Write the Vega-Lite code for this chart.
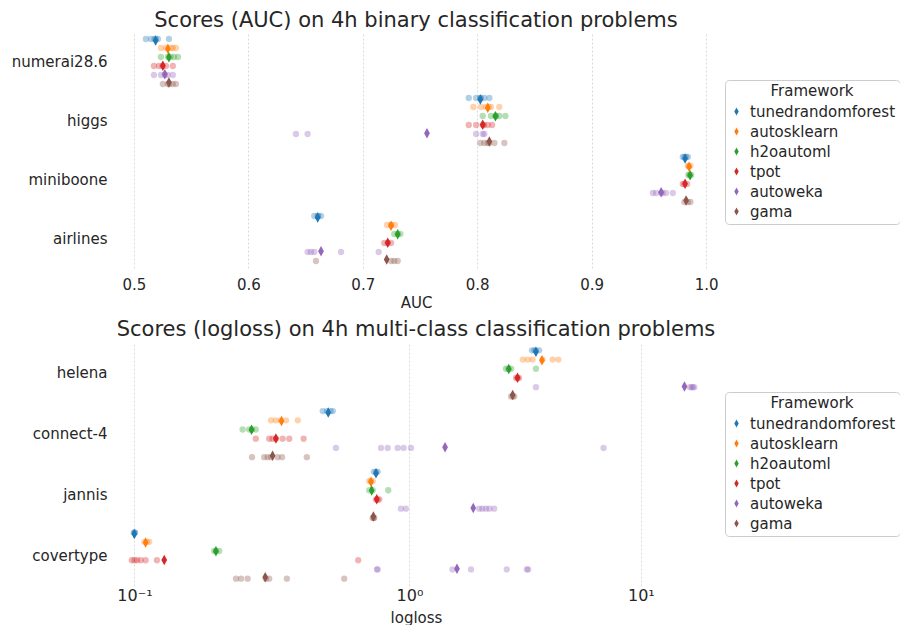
{
  "$schema": "https://vega.github.io/schema/vega-lite/v6.json",
  "background": "white",
  "padding": {"left": 11, "top": 10, "right": 0, "bottom": 0},
  "config": {
    "font": "DejaVu Sans",
    "view": {"stroke": null},
    "axis": {"domain": false, "ticks": false, "labelColor": "#262626", "titleColor": "#262626", "labelFontSize": 15, "titleFontSize": 15, "titleFontWeight": "normal", "grid": false, "labelFont": "DejaVu Sans", "titleFont": "DejaVu Sans"},
    "title": {"fontSize": 21, "fontWeight": "normal", "color": "#262626", "font": "DejaVu Sans"},
    "legend": {"titleFontSize": 15, "titleFontWeight": "normal", "labelFontSize": 15, "labelColor": "#262626", "titleColor": "#262626", "titleAnchor": "middle", "strokeColor": "#cccccc", "fillColor": "white", "cornerRadius": 4, "padding": 4, "rowPadding": 4, "titlePadding": 5, "symbolOpacity": 1, "symbolType": "M0,-1L0.55,0L0,1L-0.55,0Z", "symbolSize": 64, "symbolStrokeWidth": 0, "labelOffset": 6, "labelFont": "DejaVu Sans", "titleFont": "DejaVu Sans"}
  },
  "datasets": {
    "auc": [
      {"task": "numerai28.6", "framework": "tunedrandomforest", "score": 0.5105},
      {"task": "numerai28.6", "framework": "tunedrandomforest", "score": 0.515},
      {"task": "numerai28.6", "framework": "tunedrandomforest", "score": 0.518},
      {"task": "numerai28.6", "framework": "tunedrandomforest", "score": 0.5192},
      {"task": "numerai28.6", "framework": "tunedrandomforest", "score": 0.521},
      {"task": "numerai28.6", "framework": "tunedrandomforest", "score": 0.5306},
      {"task": "numerai28.6", "framework": "autosklearn", "score": 0.5236},
      {"task": "numerai28.6", "framework": "autosklearn", "score": 0.528},
      {"task": "numerai28.6", "framework": "autosklearn", "score": 0.5323},
      {"task": "numerai28.6", "framework": "autosklearn", "score": 0.534},
      {"task": "numerai28.6", "framework": "autosklearn", "score": 0.5367},
      {"task": "numerai28.6", "framework": "h2oautoml", "score": 0.5236},
      {"task": "numerai28.6", "framework": "h2oautoml", "score": 0.5297},
      {"task": "numerai28.6", "framework": "h2oautoml", "score": 0.532},
      {"task": "numerai28.6", "framework": "h2oautoml", "score": 0.535},
      {"task": "numerai28.6", "framework": "h2oautoml", "score": 0.5385},
      {"task": "numerai28.6", "framework": "tpot", "score": 0.5175},
      {"task": "numerai28.6", "framework": "tpot", "score": 0.5219},
      {"task": "numerai28.6", "framework": "tpot", "score": 0.525},
      {"task": "numerai28.6", "framework": "tpot", "score": 0.528},
      {"task": "numerai28.6", "framework": "tpot", "score": 0.534},
      {"task": "numerai28.6", "framework": "autoweka", "score": 0.5175},
      {"task": "numerai28.6", "framework": "autoweka", "score": 0.5236},
      {"task": "numerai28.6", "framework": "autoweka", "score": 0.527},
      {"task": "numerai28.6", "framework": "autoweka", "score": 0.5297},
      {"task": "numerai28.6", "framework": "autoweka", "score": 0.534},
      {"task": "numerai28.6", "framework": "gama", "score": 0.5253},
      {"task": "numerai28.6", "framework": "gama", "score": 0.5297},
      {"task": "numerai28.6", "framework": "gama", "score": 0.531},
      {"task": "numerai28.6", "framework": "gama", "score": 0.534},
      {"task": "numerai28.6", "framework": "gama", "score": 0.5367},
      {"task": "higgs", "framework": "tunedrandomforest", "score": 0.7926},
      {"task": "higgs", "framework": "tunedrandomforest", "score": 0.799},
      {"task": "higgs", "framework": "tunedrandomforest", "score": 0.8027},
      {"task": "higgs", "framework": "tunedrandomforest", "score": 0.803},
      {"task": "higgs", "framework": "tunedrandomforest", "score": 0.8062},
      {"task": "higgs", "framework": "tunedrandomforest", "score": 0.8106},
      {"task": "higgs", "framework": "autosklearn", "score": 0.7966},
      {"task": "higgs", "framework": "autosklearn", "score": 0.8033},
      {"task": "higgs", "framework": "autosklearn", "score": 0.8077},
      {"task": "higgs", "framework": "autosklearn", "score": 0.81},
      {"task": "higgs", "framework": "autosklearn", "score": 0.812},
      {"task": "higgs", "framework": "autosklearn", "score": 0.8193},
      {"task": "higgs", "framework": "h2oautoml", "score": 0.8048},
      {"task": "higgs", "framework": "h2oautoml", "score": 0.812},
      {"task": "higgs", "framework": "h2oautoml", "score": 0.816},
      {"task": "higgs", "framework": "h2oautoml", "score": 0.8164},
      {"task": "higgs", "framework": "h2oautoml", "score": 0.8193},
      {"task": "higgs", "framework": "h2oautoml", "score": 0.8246},
      {"task": "higgs", "framework": "tpot", "score": 0.7926},
      {"task": "higgs", "framework": "tpot", "score": 0.799},
      {"task": "higgs", "framework": "tpot", "score": 0.8048},
      {"task": "higgs", "framework": "tpot", "score": 0.806},
      {"task": "higgs", "framework": "tpot", "score": 0.8092},
      {"task": "higgs", "framework": "tpot", "score": 0.813},
      {"task": "higgs", "framework": "autoweka", "score": 0.6416},
      {"task": "higgs", "framework": "autoweka", "score": 0.6518},
      {"task": "higgs", "framework": "autoweka", "score": 0.799},
      {"task": "higgs", "framework": "autoweka", "score": 0.8048},
      {"task": "higgs", "framework": "autoweka", "score": 0.8062},
      {"task": "higgs", "framework": "gama", "score": 0.8027},
      {"task": "higgs", "framework": "gama", "score": 0.8062},
      {"task": "higgs", "framework": "gama", "score": 0.809},
      {"task": "higgs", "framework": "gama", "score": 0.8106},
      {"task": "higgs", "framework": "gama", "score": 0.815},
      {"task": "higgs", "framework": "gama", "score": 0.8237},
      {"task": "miniboone", "framework": "tunedrandomforest", "score": 0.9796},
      {"task": "miniboone", "framework": "tunedrandomforest", "score": 0.981},
      {"task": "miniboone", "framework": "tunedrandomforest", "score": 0.9825},
      {"task": "miniboone", "framework": "tunedrandomforest", "score": 0.984},
      {"task": "miniboone", "framework": "autosklearn", "score": 0.984},
      {"task": "miniboone", "framework": "autosklearn", "score": 0.985},
      {"task": "miniboone", "framework": "autosklearn", "score": 0.9863},
      {"task": "miniboone", "framework": "h2oautoml", "score": 0.9845},
      {"task": "miniboone", "framework": "h2oautoml", "score": 0.9855},
      {"task": "miniboone", "framework": "h2oautoml", "score": 0.9869},
      {"task": "miniboone", "framework": "tpot", "score": 0.9796},
      {"task": "miniboone", "framework": "tpot", "score": 0.981},
      {"task": "miniboone", "framework": "tpot", "score": 0.9834},
      {"task": "miniboone", "framework": "autoweka", "score": 0.9534},
      {"task": "miniboone", "framework": "autoweka", "score": 0.9563},
      {"task": "miniboone", "framework": "autoweka", "score": 0.9607},
      {"task": "miniboone", "framework": "autoweka", "score": 0.962},
      {"task": "miniboone", "framework": "autoweka", "score": 0.965},
      {"task": "miniboone", "framework": "autoweka", "score": 0.9709},
      {"task": "miniboone", "framework": "gama", "score": 0.981},
      {"task": "miniboone", "framework": "gama", "score": 0.984},
      {"task": "miniboone", "framework": "gama", "score": 0.9863},
      {"task": "airlines", "framework": "tunedrandomforest", "score": 0.6576},
      {"task": "airlines", "framework": "tunedrandomforest", "score": 0.6606},
      {"task": "airlines", "framework": "tunedrandomforest", "score": 0.661},
      {"task": "airlines", "framework": "tunedrandomforest", "score": 0.6635},
      {"task": "airlines", "framework": "autosklearn", "score": 0.7212},
      {"task": "airlines", "framework": "autosklearn", "score": 0.7247},
      {"task": "airlines", "framework": "autosklearn", "score": 0.725},
      {"task": "airlines", "framework": "autosklearn", "score": 0.7282},
      {"task": "airlines", "framework": "h2oautoml", "score": 0.7275},
      {"task": "airlines", "framework": "h2oautoml", "score": 0.7305},
      {"task": "airlines", "framework": "h2oautoml", "score": 0.7328},
      {"task": "airlines", "framework": "tpot", "score": 0.7188},
      {"task": "airlines", "framework": "tpot", "score": 0.7218},
      {"task": "airlines", "framework": "tpot", "score": 0.7247},
      {"task": "airlines", "framework": "autoweka", "score": 0.6518},
      {"task": "airlines", "framework": "autoweka", "score": 0.6547},
      {"task": "airlines", "framework": "autoweka", "score": 0.6576},
      {"task": "airlines", "framework": "autoweka", "score": 0.681},
      {"task": "airlines", "framework": "autoweka", "score": 0.7139},
      {"task": "airlines", "framework": "gama", "score": 0.6591},
      {"task": "airlines", "framework": "gama", "score": 0.7247},
      {"task": "airlines", "framework": "gama", "score": 0.7275},
      {"task": "airlines", "framework": "gama", "score": 0.7305}
    ],
    "auc_mean": [
      {"task": "numerai28.6", "framework": "tunedrandomforest", "score": 0.519},
      {"task": "numerai28.6", "framework": "autosklearn", "score": 0.5297},
      {"task": "numerai28.6", "framework": "h2oautoml", "score": 0.5306},
      {"task": "numerai28.6", "framework": "tpot", "score": 0.5253},
      {"task": "numerai28.6", "framework": "autoweka", "score": 0.527},
      {"task": "numerai28.6", "framework": "gama", "score": 0.5306},
      {"task": "higgs", "framework": "tunedrandomforest", "score": 0.8027},
      {"task": "higgs", "framework": "autosklearn", "score": 0.8092},
      {"task": "higgs", "framework": "h2oautoml", "score": 0.8159},
      {"task": "higgs", "framework": "tpot", "score": 0.8048},
      {"task": "higgs", "framework": "autoweka", "score": 0.7561},
      {"task": "higgs", "framework": "gama", "score": 0.8106},
      {"task": "miniboone", "framework": "tunedrandomforest", "score": 0.9816},
      {"task": "miniboone", "framework": "autosklearn", "score": 0.9851},
      {"task": "miniboone", "framework": "h2oautoml", "score": 0.986},
      {"task": "miniboone", "framework": "tpot", "score": 0.9816},
      {"task": "miniboone", "framework": "autoweka", "score": 0.9607},
      {"task": "miniboone", "framework": "gama", "score": 0.9825},
      {"task": "airlines", "framework": "tunedrandomforest", "score": 0.6606},
      {"task": "airlines", "framework": "autosklearn", "score": 0.7247},
      {"task": "airlines", "framework": "h2oautoml", "score": 0.7305},
      {"task": "airlines", "framework": "tpot", "score": 0.7218},
      {"task": "airlines", "framework": "autoweka", "score": 0.6635},
      {"task": "airlines", "framework": "gama", "score": 0.7209}
    ],
    "logloss": [
      {"task": "helena", "framework": "tunedrandomforest", "score": 3.22},
      {"task": "helena", "framework": "tunedrandomforest", "score": 3.3},
      {"task": "helena", "framework": "tunedrandomforest", "score": 3.35},
      {"task": "helena", "framework": "tunedrandomforest", "score": 3.46},
      {"task": "helena", "framework": "autosklearn", "score": 2.94},
      {"task": "helena", "framework": "autosklearn", "score": 3.09},
      {"task": "helena", "framework": "autosklearn", "score": 3.24},
      {"task": "helena", "framework": "autosklearn", "score": 3.58},
      {"task": "helena", "framework": "autosklearn", "score": 3.96},
      {"task": "helena", "framework": "autosklearn", "score": 4.2},
      {"task": "helena", "framework": "h2oautoml", "score": 2.49},
      {"task": "helena", "framework": "h2oautoml", "score": 2.55},
      {"task": "helena", "framework": "h2oautoml", "score": 2.62},
      {"task": "helena", "framework": "h2oautoml", "score": 3.35},
      {"task": "helena", "framework": "tpot", "score": 2.75},
      {"task": "helena", "framework": "tpot", "score": 2.79},
      {"task": "helena", "framework": "tpot", "score": 2.83},
      {"task": "helena", "framework": "autoweka", "score": 3.35},
      {"task": "helena", "framework": "autoweka", "score": 17.2},
      {"task": "helena", "framework": "autoweka", "score": 17.6},
      {"task": "helena", "framework": "autoweka", "score": 17.8},
      {"task": "helena", "framework": "autoweka", "score": 18.1},
      {"task": "helena", "framework": "gama", "score": 2.62},
      {"task": "helena", "framework": "gama", "score": 2.66},
      {"task": "helena", "framework": "gama", "score": 2.7},
      {"task": "connect-4", "framework": "tunedrandomforest", "score": 0.463},
      {"task": "connect-4", "framework": "tunedrandomforest", "score": 0.48},
      {"task": "connect-4", "framework": "tunedrandomforest", "score": 0.495},
      {"task": "connect-4", "framework": "tunedrandomforest", "score": 0.505},
      {"task": "connect-4", "framework": "autosklearn", "score": 0.2985},
      {"task": "connect-4", "framework": "autosklearn", "score": 0.311},
      {"task": "connect-4", "framework": "autosklearn", "score": 0.324},
      {"task": "connect-4", "framework": "autosklearn", "score": 0.3386},
      {"task": "connect-4", "framework": "autosklearn", "score": 0.374},
      {"task": "connect-4", "framework": "h2oautoml", "score": 0.236},
      {"task": "connect-4", "framework": "h2oautoml", "score": 0.249},
      {"task": "connect-4", "framework": "h2oautoml", "score": 0.255},
      {"task": "connect-4", "framework": "h2oautoml", "score": 0.263},
      {"task": "connect-4", "framework": "tpot", "score": 0.263},
      {"task": "connect-4", "framework": "tpot", "score": 0.294},
      {"task": "connect-4", "framework": "tpot", "score": 0.3025},
      {"task": "connect-4", "framework": "tpot", "score": 0.311},
      {"task": "connect-4", "framework": "tpot", "score": 0.329},
      {"task": "connect-4", "framework": "tpot", "score": 0.348},
      {"task": "connect-4", "framework": "tpot", "score": 0.393},
      {"task": "connect-4", "framework": "autoweka", "score": 0.519},
      {"task": "connect-4", "framework": "autoweka", "score": 0.773},
      {"task": "connect-4", "framework": "autoweka", "score": 0.821},
      {"task": "connect-4", "framework": "autoweka", "score": 0.898},
      {"task": "connect-4", "framework": "autoweka", "score": 0.948},
      {"task": "connect-4", "framework": "autoweka", "score": 1.014},
      {"task": "connect-4", "framework": "autoweka", "score": 6.71},
      {"task": "connect-4", "framework": "gama", "score": 0.255},
      {"task": "connect-4", "framework": "gama", "score": 0.282},
      {"task": "connect-4", "framework": "gama", "score": 0.2906},
      {"task": "connect-4", "framework": "gama", "score": 0.2985},
      {"task": "connect-4", "framework": "gama", "score": 0.3156},
      {"task": "connect-4", "framework": "gama", "score": 0.3275},
      {"task": "connect-4", "framework": "gama", "score": 0.404},
      {"task": "jannis", "framework": "tunedrandomforest", "score": 0.725},
      {"task": "jannis", "framework": "tunedrandomforest", "score": 0.739},
      {"task": "jannis", "framework": "tunedrandomforest", "score": 0.75},
      {"task": "jannis", "framework": "autosklearn", "score": 0.695},
      {"task": "jannis", "framework": "autosklearn", "score": 0.7066},
      {"task": "jannis", "framework": "autosklearn", "score": 0.718},
      {"task": "jannis", "framework": "h2oautoml", "score": 0.696},
      {"task": "jannis", "framework": "h2oautoml", "score": 0.7175},
      {"task": "jannis", "framework": "h2oautoml", "score": 0.825},
      {"task": "jannis", "framework": "tpot", "score": 0.739},
      {"task": "jannis", "framework": "tpot", "score": 0.75},
      {"task": "jannis", "framework": "tpot", "score": 0.761},
      {"task": "jannis", "framework": "autoweka", "score": 0.925},
      {"task": "jannis", "framework": "autoweka", "score": 0.968},
      {"task": "jannis", "framework": "autoweka", "score": 1.92},
      {"task": "jannis", "framework": "autoweka", "score": 1.98},
      {"task": "jannis", "framework": "autoweka", "score": 2.05},
      {"task": "jannis", "framework": "autoweka", "score": 2.12},
      {"task": "jannis", "framework": "autoweka", "score": 2.22},
      {"task": "jannis", "framework": "gama", "score": 0.7175},
      {"task": "jannis", "framework": "gama", "score": 0.723},
      {"task": "jannis", "framework": "gama", "score": 0.728},
      {"task": "covertype", "framework": "tunedrandomforest", "score": 0.0995},
      {"task": "covertype", "framework": "tunedrandomforest", "score": 0.1},
      {"task": "covertype", "framework": "tunedrandomforest", "score": 0.1005},
      {"task": "covertype", "framework": "autosklearn", "score": 0.1079},
      {"task": "covertype", "framework": "autosklearn", "score": 0.11},
      {"task": "covertype", "framework": "autosklearn", "score": 0.1121},
      {"task": "covertype", "framework": "h2oautoml", "score": 0.1874},
      {"task": "covertype", "framework": "h2oautoml", "score": 0.19},
      {"task": "covertype", "framework": "h2oautoml", "score": 0.195},
      {"task": "covertype", "framework": "tpot", "score": 0.098},
      {"task": "covertype", "framework": "tpot", "score": 0.1},
      {"task": "covertype", "framework": "tpot", "score": 0.102},
      {"task": "covertype", "framework": "tpot", "score": 0.105},
      {"task": "covertype", "framework": "tpot", "score": 0.109},
      {"task": "covertype", "framework": "tpot", "score": 0.119},
      {"task": "covertype", "framework": "tpot", "score": 0.631},
      {"task": "covertype", "framework": "autoweka", "score": 0.7455},
      {"task": "covertype", "framework": "autoweka", "score": 0.75},
      {"task": "covertype", "framework": "autoweka", "score": 1.49},
      {"task": "covertype", "framework": "autoweka", "score": 1.777},
      {"task": "covertype", "framework": "autoweka", "score": 2.51},
      {"task": "covertype", "framework": "autoweka", "score": 3.06},
      {"task": "covertype", "framework": "autoweka", "score": 3.1},
      {"task": "covertype", "framework": "gama", "score": 0.2236},
      {"task": "covertype", "framework": "gama", "score": 0.233},
      {"task": "covertype", "framework": "gama", "score": 0.246},
      {"task": "covertype", "framework": "gama", "score": 0.286},
      {"task": "covertype", "framework": "gama", "score": 0.294},
      {"task": "covertype", "framework": "gama", "score": 0.341},
      {"task": "covertype", "framework": "gama", "score": 0.558}
    ],
    "logloss_mean": [
      {"task": "helena", "framework": "tunedrandomforest", "score": 3.35},
      {"task": "helena", "framework": "autosklearn", "score": 3.56},
      {"task": "helena", "framework": "h2oautoml", "score": 2.56},
      {"task": "helena", "framework": "tpot", "score": 2.79},
      {"task": "helena", "framework": "autoweka", "score": 16.2},
      {"task": "helena", "framework": "gama", "score": 2.66},
      {"task": "connect-4", "framework": "tunedrandomforest", "score": 0.4855},
      {"task": "connect-4", "framework": "autosklearn", "score": 0.326},
      {"task": "connect-4", "framework": "h2oautoml", "score": 0.254},
      {"task": "connect-4", "framework": "tpot", "score": 0.311},
      {"task": "connect-4", "framework": "autoweka", "score": 1.39},
      {"task": "connect-4", "framework": "gama", "score": 0.3025},
      {"task": "jannis", "framework": "tunedrandomforest", "score": 0.739},
      {"task": "jannis", "framework": "autosklearn", "score": 0.7066},
      {"task": "jannis", "framework": "h2oautoml", "score": 0.711},
      {"task": "jannis", "framework": "tpot", "score": 0.744},
      {"task": "jannis", "framework": "autoweka", "score": 1.815},
      {"task": "jannis", "framework": "gama", "score": 0.722},
      {"task": "covertype", "framework": "tunedrandomforest", "score": 0.0999},
      {"task": "covertype", "framework": "autosklearn", "score": 0.109},
      {"task": "covertype", "framework": "h2oautoml", "score": 0.19},
      {"task": "covertype", "framework": "tpot", "score": 0.126},
      {"task": "covertype", "framework": "autoweka", "score": 1.555},
      {"task": "covertype", "framework": "gama", "score": 0.2845}
    ]
  },
  "spacing": 9,
  "resolve": {"scale": {"color": "independent", "x": "independent", "y": "independent", "yOffset": "independent"}, "legend": {"color": "independent"}},
  "vconcat": [
    {
      "title": {"text": "Scores (AUC) on 4h binary classification problems", "offset": 1},
      "width": 610,
      "height": 236,
      "resolve": {"scale": {"yOffset": "independent"}},
      "layer": [
        {
          "data": {"name": "auc"},
          "mark": {"type": "point", "filled": true, "opacity": 0.35, "size": 40, "shape": "circle", "strokeWidth": 0},
          "encoding": {
            "x": {"field": "score", "type": "quantitative", "scale": {"domain": [0.48, 1.013], "zero": false, "nice": false}, "axis": {"title": "AUC", "values": [0.5, 0.6, 0.7, 0.8, 0.9, 1.0], "format": ".1f", "grid": true, "gridColor": "#d0d0d0", "gridDash": [2, 2], "gridWidth": 0.8, "labelPadding": 9, "titlePadding": 3}},
            "y": {"field": "task", "type": "nominal", "scale": {"domain": ["numerai28.6", "higgs", "miniboone", "airlines"], "paddingInner": 0, "paddingOuter": 0}, "axis": {"title": null, "labelPadding": 4}},
            "yOffset": {"field": "framework", "type": "nominal", "scale": {"domain": ["tunedrandomforest", "autosklearn", "h2oautoml", "tpot", "autoweka", "gama"], "paddingInner": 0, "paddingOuter": 0.78}},
            "color": {"field": "framework", "type": "nominal", "scale": {"domain": ["tunedrandomforest", "autosklearn", "h2oautoml", "tpot", "autoweka", "gama"], "range": ["#1f77b4", "#ff7f0e", "#2ca02c", "#d62728", "#9467bd", "#8c564b"]}, "legend": {"title": "Framework", "orient": "none", "legendX": 614, "legendY": 48}}
          }
        },
        {
          "data": {"name": "auc_mean"},
          "mark": {"type": "point", "filled": true, "opacity": 1, "size": 110, "shape": "M0,-1L0.55,0L0,1L-0.55,0Z", "strokeWidth": 0},
          "encoding": {
            "x": {"field": "score", "type": "quantitative"},
            "y": {"field": "task", "type": "nominal"},
            "yOffset": {"field": "framework", "type": "nominal", "scale": {"domain": ["tunedrandomforest", "autosklearn", "h2oautoml", "tpot", "autoweka", "gama"], "paddingInner": 0, "paddingOuter": 1.9}},
            "color": {"field": "framework", "type": "nominal"}
          }
        }
      ]
    },
    {
      "title": {"text": "Scores (logloss) on 4h multi-class classification problems", "offset": 3},
      "width": 610,
      "height": 243,
      "resolve": {"scale": {"yOffset": "independent"}},
      "layer": [
        {
          "data": {"name": "logloss"},
          "mark": {"type": "point", "filled": true, "opacity": 0.35, "size": 40, "shape": "circle", "strokeWidth": 0},
          "encoding": {
            "x": {"field": "score", "type": "quantitative", "scale": {"type": "pow", "exponent": -0.075, "domain": [0.0836, 24.6], "zero": false, "nice": false}, "axis": {"title": "logloss", "values": [0.1, 1, 10], "labelExpr": "datum.value < 0.5 ? '10⁻¹' : datum.value < 5 ? '10⁰' : '10¹'", "grid": true, "gridColor": "#d0d0d0", "gridDash": [2, 2], "gridWidth": 0.8, "labelFontSize": 16, "labelPadding": 1, "titlePadding": 7}},
            "y": {"field": "task", "type": "nominal", "scale": {"domain": ["helena", "connect-4", "jannis", "covertype"], "paddingInner": 0, "paddingOuter": 0}, "axis": {"title": null, "labelPadding": 4}},
            "yOffset": {"field": "framework", "type": "nominal", "scale": {"domain": ["tunedrandomforest", "autosklearn", "h2oautoml", "tpot", "autoweka", "gama"], "paddingInner": 0, "paddingOuter": 0.8}},
            "color": {"field": "framework", "type": "nominal", "scale": {"domain": ["tunedrandomforest", "autosklearn", "h2oautoml", "tpot", "autoweka", "gama"], "range": ["#1f77b4", "#ff7f0e", "#2ca02c", "#d62728", "#9467bd", "#8c564b"]}, "legend": {"title": "Framework", "orient": "none", "legendX": 614, "legendY": 49}}
          }
        },
        {
          "data": {"name": "logloss_mean"},
          "mark": {"type": "point", "filled": true, "opacity": 1, "size": 110, "shape": "M0,-1L0.55,0L0,1L-0.55,0Z", "strokeWidth": 0},
          "encoding": {
            "x": {"field": "score", "type": "quantitative"},
            "y": {"field": "task", "type": "nominal"},
            "yOffset": {"field": "framework", "type": "nominal", "scale": {"domain": ["tunedrandomforest", "autosklearn", "h2oautoml", "tpot", "autoweka", "gama"], "paddingInner": 0, "paddingOuter": 1.75}},
            "color": {"field": "framework", "type": "nominal"}
          }
        }
      ]
    }
  ]
}
